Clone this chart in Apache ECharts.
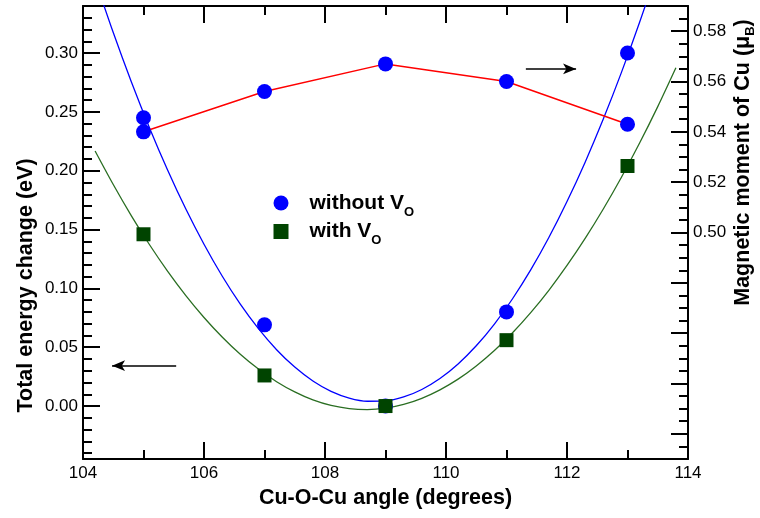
<!DOCTYPE html>
<html><head><meta charset="utf-8">
<script src="https://cdn.jsdelivr.net/npm/echarts@6/dist/echarts.min.js"></script>
<style>html,body{margin:0;padding:0;background:#fff}#c{width:760px;height:518px}</style>
</head><body><div id="c"></div>
<script>
// ---- data ----
const angles = [105, 107, 109, 111, 113];
const energyWithout = [0.245, 0.069, 0.000, 0.080, 0.300];
const energyWith = [0.146, 0.026, 0.000, 0.056, 0.204];
const momentWithout = [0.540, 0.556, 0.567, 0.560, 0.543];
// fitted curves
const fitAngles = [104.2, 104.5, 104.8, 105.1, 105.4, 105.7, 106.0, 106.3, 106.6, 106.9, 107.2, 107.5, 107.8, 108.1, 108.4, 108.7, 109.0, 109.3, 109.6, 109.9, 110.2, 110.5, 110.8, 111.1, 111.4, 111.7, 112.0, 112.3, 112.6, 112.9, 113.2, 113.5, 113.8];
const fitWithout = [0.3625, 0.3174, 0.2754, 0.2364, 0.2004, 0.1674, 0.1375, 0.1105, 0.0866, 0.0658, 0.0479, 0.0331, 0.0213, 0.0125, 0.0068, 0.0041, 0.0044, 0.0077, 0.0141, 0.0234, 0.0358, 0.0512, 0.0697, 0.0912, 0.1157, 0.1432, 0.1738, 0.2073, 0.2439, 0.2836, 0.3262, 0.3719, 0.4206];
const fitWith = [0.2168, 0.1883, 0.1617, 0.1371, 0.1145, 0.0939, 0.0753, 0.0587, 0.0440, 0.0314, 0.0207, 0.0120, 0.0052, 0.0005, -0.0022, -0.0030, -0.0018, 0.0014, 0.0066, 0.0138, 0.0229, 0.0341, 0.0472, 0.0623, 0.0794, 0.0984, 0.1195, 0.1425, 0.1675, 0.1945, 0.2235, 0.2545, 0.2875];
const leftMajor = [0.00, 0.05, 0.10, 0.15, 0.20, 0.25, 0.30];
const leftMinor = [-0.04, -0.03, -0.02, -0.01, 0.01, 0.02, 0.03, 0.04, 0.06, 0.07, 0.08, 0.09, 0.11, 0.12, 0.13, 0.14, 0.16, 0.17, 0.18, 0.19, 0.21, 0.22, 0.23, 0.24, 0.26, 0.27, 0.28, 0.29, 0.31, 0.32, 0.33];
const rightMajor = [0.42, 0.44, 0.46, 0.48, 0.50, 0.52, 0.54, 0.56, 0.58];
const rightLabels = [0.50, 0.52, 0.54, 0.56, 0.58];
const rightMinor = [0.415, 0.425, 0.43, 0.435, 0.445, 0.45, 0.455, 0.465, 0.47, 0.475, 0.485, 0.49, 0.495, 0.505, 0.51, 0.515, 0.525, 0.53, 0.535, 0.545, 0.55, 0.555, 0.565, 0.57, 0.575, 0.585];
// arrow annotations (angle, value)
const arrowLeft = [[105.54, 0.0343], [104.48, 0.0343]];
const arrowRight = [[111.32, 0.565], [112.15, 0.565]];

const FONT = '"Liberation Sans", Arial, Helvetica, sans-serif';
const pair = (xs, ys) => xs.map((x, i) => [x, ys[i]]);
const black = '#000';
const lineSt = {color: black, width: 2};

const chart = echarts.init(document.getElementById('c'));
chart.setOption({
  animation: false,
  backgroundColor: '#fff',
  textStyle: {fontFamily: FONT},
  grid: {left: 83, right: 72, top: 6, bottom: 59, outerBoundsMode: 'none'},
  legend: {
    orient: 'vertical', left: 273.5, top: 190.5, padding: 0, itemGap: 0.5,
    itemWidth: 15, itemHeight: 15, selectedMode: false,
    data: [{name: 'without VO', icon: 'circle'}, {name: 'with VO', icon: 'rect'}],
    formatter: n => n === 'without VO' ? '{a|without V}{s|O}' : '{a|with V}{s|O}',
    textStyle: {rich: {
      a: {fontFamily: FONT, fontSize: 21, fontWeight: 'bold', color: black, lineHeight: 25, padding: [0, 0, 0, 16]},
      s: {fontFamily: FONT, fontSize: 13, fontWeight: 'bold', color: black, lineHeight: 6, verticalAlign: 'top', padding: [15, 0, 0, 0]}
    }}
  },
  xAxis: [
    {type: 'value', position: 'bottom', min: 104, max: 114, interval: 2,
     axisLine: {show: true, onZero: false, lineStyle: lineSt},
     axisTick: {show: true, inside: true, length: 17, lineStyle: lineSt},
     minorTick: {show: true, splitNumber: 2, length: 9, lineStyle: lineSt},
     axisLabel: {fontSize: 17, color: black, margin: 6, fontFamily: FONT},
     splitLine: {show: false},
     name: 'Cu-O-Cu angle (degrees)', nameLocation: 'middle', nameGap: 28, nameMoveOverlap: false,
     nameTextStyle: {fontSize: 21.5, fontWeight: 'bold', color: black, fontFamily: FONT}},
    {type: 'value', position: 'top', min: 104, max: 114, interval: 2,
     axisLine: {show: true, onZero: false, lineStyle: lineSt},
     axisTick: {show: true, inside: true, length: 17, lineStyle: lineSt},
     minorTick: {show: true, splitNumber: 2, length: 9, lineStyle: lineSt},
     axisLabel: {show: false}, splitLine: {show: false}}
  ],
  yAxis: [
    {type: 'value', position: 'left', min: -0.045, max: 0.34,
     axisLine: {show: true, onZero: false, lineStyle: lineSt},
     axisTick: {show: true, inside: true, length: 17, lineStyle: lineSt, customValues: leftMajor},
     axisLabel: {customValues: leftMajor, formatter: v => v.toFixed(2), fontSize: 17, color: black, margin: 5, fontFamily: FONT},
     splitLine: {show: false},
     name: 'Total energy change (eV)', nameLocation: 'middle', nameGap: 46, nameRotate: 90, nameMoveOverlap: false,
     nameTextStyle: {fontSize: 21.5, fontWeight: 'bold', color: black, fontFamily: FONT, padding: [0, 106, 0, 0]}},
    {type: 'value', position: 'left', min: -0.045, max: 0.34,
     axisLine: {show: false},
     axisTick: {show: true, inside: true, length: 9, lineStyle: lineSt, customValues: leftMinor},
     axisLabel: {show: false}, splitLine: {show: false}},
    {type: 'value', position: 'right', min: 0.41, max: 0.59,
     axisLine: {show: true, onZero: false, lineStyle: lineSt},
     axisTick: {show: true, inside: true, length: 17, lineStyle: lineSt, customValues: rightMajor},
     axisLabel: {customValues: rightLabels, formatter: v => v.toFixed(2), fontSize: 17, color: black, margin: 5, fontFamily: FONT},
     splitLine: {show: false},
     name: '{t|Magnetic moment of Cu (μ}{s|B}{t|)}', nameLocation: 'middle', nameGap: 42, nameRotate: 90, nameMoveOverlap: false,
     nameTextStyle: {color: black, padding: [0, 0, 0, 140], rich: {
       t: {fontSize: 21.5, fontWeight: 'bold', color: black, fontFamily: FONT, lineHeight: 27},
       s: {fontSize: 13, fontWeight: 'bold', color: black, fontFamily: FONT, lineHeight: 13, verticalAlign: 'bottom'}
     }}},
    {type: 'value', position: 'right', min: 0.41, max: 0.59,
     axisLine: {show: false},
     axisTick: {show: true, inside: true, length: 9, lineStyle: lineSt, customValues: rightMinor},
     axisLabel: {show: false}, splitLine: {show: false}}
  ],
  series: [
    {name: 'fit without VO', type: 'line', xAxisIndex: 0, yAxisIndex: 0, data: pair(fitAngles, fitWithout),
     smooth: 0.3, showSymbol: false, symbol: 'none', clip: true, silent: true,
     lineStyle: {color: '#0000ff', width: 1.3}, itemStyle: {color: '#0000ff'}, z: 2,
     markLine: {silent: true, symbol: ['none', 'arrow'], symbolSize: [8, 13], animation: false,
       lineStyle: {color: black, width: 1.5, type: 'solid'}, label: {show: false}, emphasis: {disabled: true},
       data: [[{coord: arrowLeft[0]}, {coord: arrowLeft[1]}]]}},
    {name: 'fit with VO', type: 'line', xAxisIndex: 0, yAxisIndex: 0, data: pair(fitAngles, fitWith),
     smooth: 0.3, showSymbol: false, symbol: 'none', clip: true, silent: true,
     lineStyle: {color: '#2a6e22', width: 1.3}, itemStyle: {color: '#2a6e22'}, z: 2},
    {name: 'moment without VO', type: 'line', xAxisIndex: 0, yAxisIndex: 2, data: pair(angles, momentWithout),
     symbol: 'circle', symbolSize: 15, showSymbol: true,
     lineStyle: {color: '#ff0000', width: 1.5}, itemStyle: {color: '#0000ff'}, z: 3,
     markLine: {silent: true, symbol: ['none', 'arrow'], symbolSize: [8, 13], animation: false,
       lineStyle: {color: black, width: 1.5, type: 'solid'}, label: {show: false}, emphasis: {disabled: true},
       data: [[{coord: arrowRight[0]}, {coord: arrowRight[1]}]]}},
    {name: 'without VO', type: 'scatter', xAxisIndex: 0, yAxisIndex: 0, data: pair(angles, energyWithout),
     symbol: 'circle', symbolSize: 15, itemStyle: {color: '#0000ff', opacity: 1}, z: 4},
    {name: 'with VO', type: 'scatter', xAxisIndex: 0, yAxisIndex: 0, data: pair(angles, energyWith),
     symbol: 'rect', symbolSize: 14, itemStyle: {color: '#004400', opacity: 1}, z: 5}
  ]
});
</script></body></html>
